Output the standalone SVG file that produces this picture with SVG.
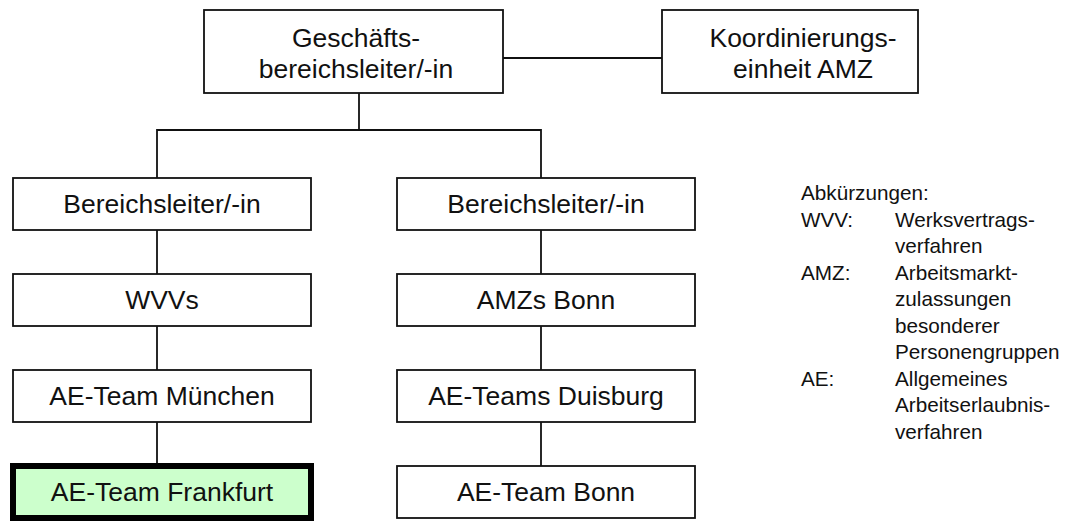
<svg xmlns="http://www.w3.org/2000/svg" width="1069" height="523" viewBox="0 0 1069 523">
<style>
.box{fill:#fff;stroke:#111;stroke-width:1.8}
.hl{fill:#ccffcc;stroke:#000;stroke-width:6}
.t{font-family:"Liberation Sans",Arial,sans-serif;font-size:26.5px;fill:#111;text-anchor:middle}
.lg{font-family:"Liberation Sans",Arial,sans-serif;font-size:20.7px;fill:#111}
.c{stroke:#111;stroke-width:1.8;fill:none}
</style>
<rect width="1069" height="523" fill="#fff"/>
<g id="connectors">
<line class="c" x1="503" y1="58" x2="662" y2="58"/>
<polyline class="c" points="359,93 359,130"/>
<polyline class="c" points="157,178 157,130 541,130 541,178"/>
<line class="c" x1="157" y1="230" x2="157" y2="274"/>
<line class="c" x1="157" y1="326" x2="157" y2="370"/>
<line class="c" x1="157" y1="422" x2="157" y2="463"/>
<line class="c" x1="541" y1="230" x2="541" y2="274"/>
<line class="c" x1="541" y1="326" x2="541" y2="370"/>
<line class="c" x1="541" y1="422" x2="541" y2="466"/>
</g>
<g id="n-gbl"><rect class="box" x="204" y="10" width="299" height="83"/><text class="t" x="356" y="47">Geschäfts-</text><text class="t" x="356" y="78">bereichsleiter/-in</text></g>
<g id="n-koord"><rect class="box" x="662" y="10" width="256" height="83"/><text class="t" x="803" y="47">Koordinierungs-</text><text class="t" x="803" y="78">einheit AMZ</text></g>
<g id="n-bl1"><rect class="box" x="13" y="178" width="298" height="52"/><text class="t" x="162" y="213">Bereichsleiter/-in</text></g>
<g id="n-bl2"><rect class="box" x="397" y="178" width="298" height="52"/><text class="t" x="546" y="213">Bereichsleiter/-in</text></g>
<g id="n-wvvs"><rect class="box" x="13" y="274" width="298" height="52"/><text class="t" x="162" y="309">WVVs</text></g>
<g id="n-amzs"><rect class="box" x="397" y="274" width="298" height="52"/><text class="t" x="546" y="309">AMZs Bonn</text></g>
<g id="n-muc"><rect class="box" x="13" y="370" width="298" height="52"/><text class="t" x="162" y="405">AE-Team München</text></g>
<g id="n-dui"><rect class="box" x="397" y="370" width="298" height="52"/><text class="t" x="546" y="405">AE-Teams Duisburg</text></g>
<g id="n-ffm"><rect class="hl" x="13" y="466" width="298" height="52"/><text class="t" x="162" y="501">AE-Team Frankfurt</text></g>
<g id="n-bonn"><rect class="box" x="397" y="466" width="298" height="52"/><text class="t" x="546" y="501">AE-Team Bonn</text></g>
<g id="legend">
<text class="lg" x="801" y="200">Abkürzungen:</text>
<text class="lg" x="801" y="227">WVV:</text><text class="lg" x="895" y="227">Werksvertrags-</text>
<text class="lg" x="895" y="253">verfahren</text>
<text class="lg" x="801" y="280">AMZ:</text><text class="lg" x="895" y="280">Arbeitsmarkt-</text>
<text class="lg" x="895" y="306">zulassungen</text>
<text class="lg" x="895" y="333">besonderer</text>
<text class="lg" x="895" y="359">Personengruppen</text>
<text class="lg" x="801" y="386">AE:</text><text class="lg" x="895" y="386">Allgemeines</text>
<text class="lg" x="895" y="412">Arbeitserlaubnis-</text>
<text class="lg" x="895" y="439">verfahren</text>
</g>
</svg>
